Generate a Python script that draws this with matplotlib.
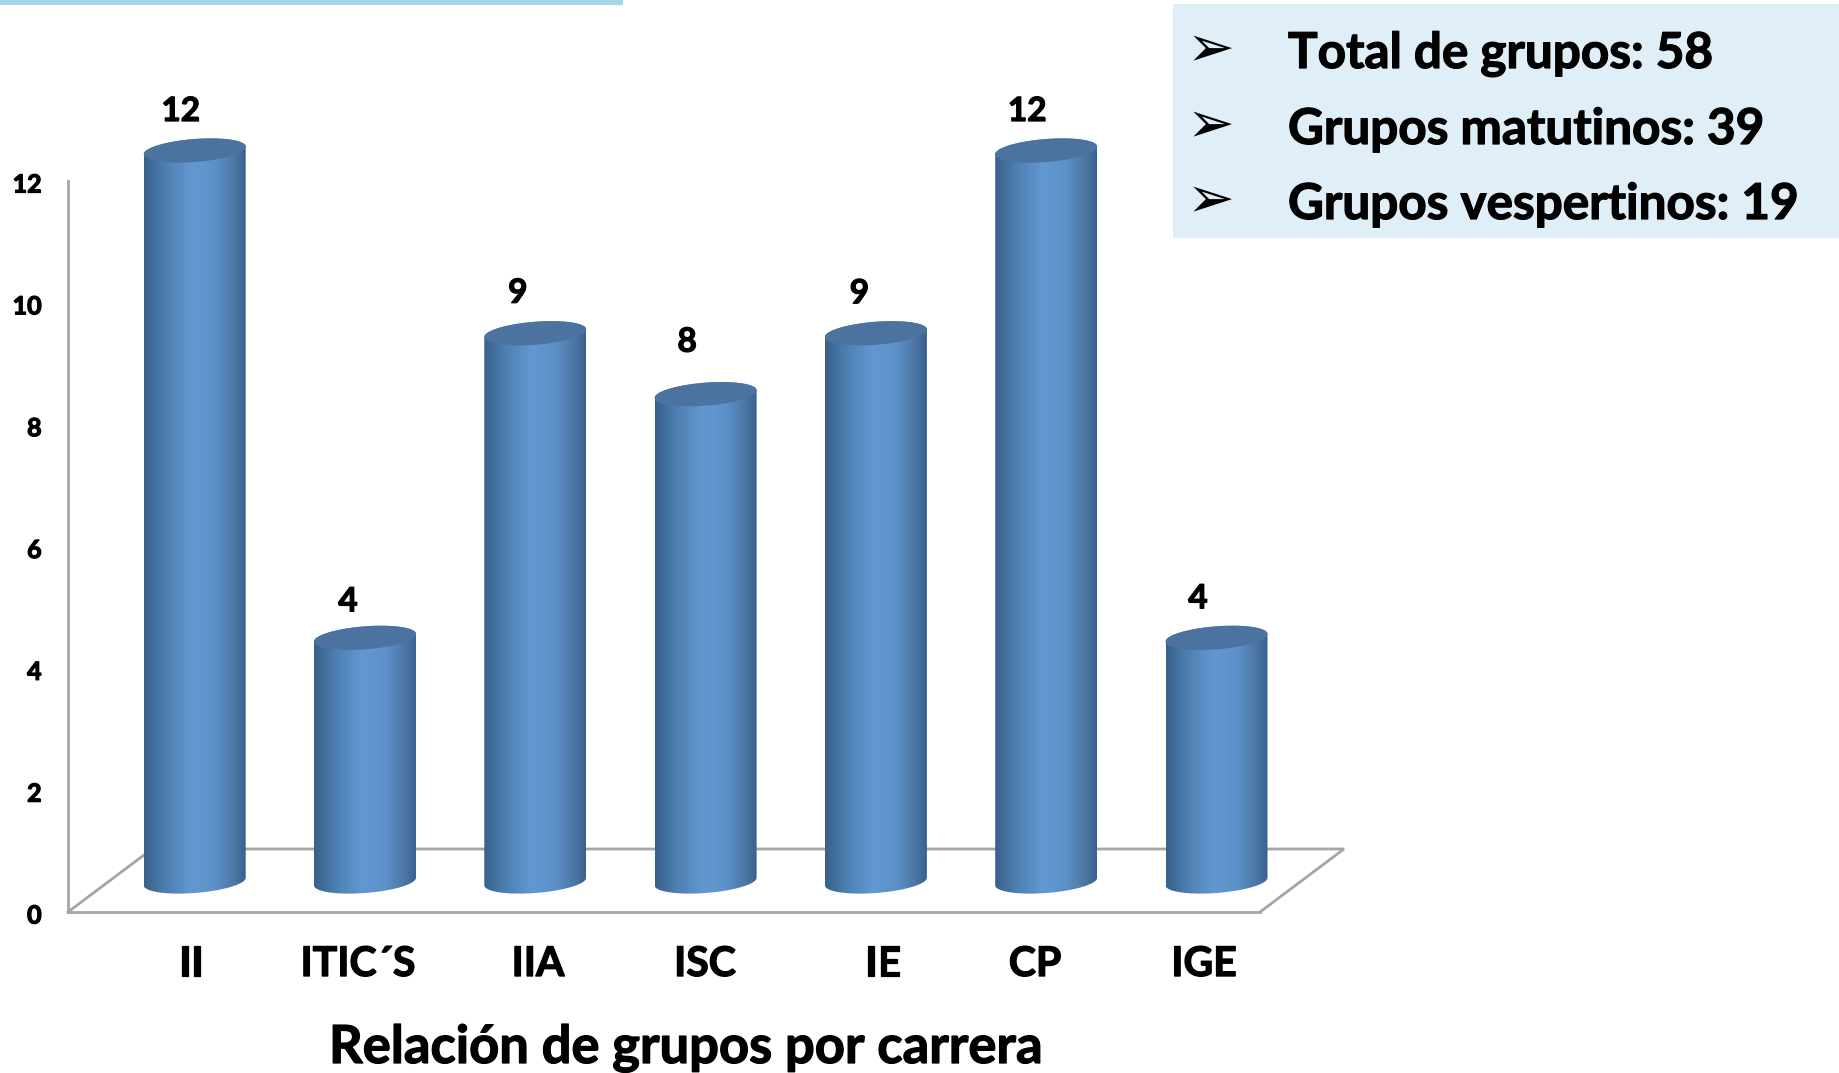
import numpy as np
import matplotlib
matplotlib.use('Agg')
import matplotlib.pyplot as plt
import matplotlib.patheffects as pe
from matplotlib.colors import LinearSegmentedColormap
from matplotlib.patches import Polygon, Rectangle
from matplotlib.transforms import ScaledTranslation

plt.rcParams['font.family'] = ['Lato', 'DejaVu Sans']
plt.rcParams['font.weight'] = 'bold'

carreras = ['II', 'ITIC´S', 'IIA', 'ISC', 'IE', 'CP', 'IGE']
grupos = [12, 4, 9, 8, 9, 12, 4]
y_ticks = [0, 2, 4, 6, 8, 10, 12]
resumen = ['Total de grupos: 58', 'Grupos matutinos: 39', 'Grupos vespertinos: 19']
titulo = 'Relación de grupos por carrera'

W, H = 1839, 1073
X0, X1 = 68, 1260      # axis ends in pixels
Y0, Y12 = 912, 181
PX_X = 170.3           # pixels per category
PX_Y = (Y0 - Y12) / 12 # pixels per group
GRIS = '#a6a6a6'
# Lato bold is lighter than the original face, thicken it a little
GRUESO = [pe.withStroke(linewidth=0.9, foreground='black')]

fig = plt.figure(figsize=(W / 100, H / 100), dpi=100)
ax = fig.add_axes([X0 / W, 1 - Y0 / H, (X1 - X0) / W, (Y0 - Y12) / H])
ax.set_xlim((X0 - 194.7) / PX_X, (X1 - 194.7) / PX_X)
ax.set_ylim(0, 12)
for s in ['top', 'right']:
    ax.spines[s].set_visible(False)
for s in ['left', 'bottom']:
    ax.spines[s].set_color(GRIS)
    ax.spines[s].set_linewidth(2)

# floor of the fake 3d chart
xa, xb = ax.get_xlim()
dx, dy = 84 / PX_X, 63 / PX_Y
ax.plot([xa, xa + dx, xb + dx, xb], [0, dy, dy, 0], color=GRIS, lw=2,
        clip_on=False, solid_joinstyle='miter', zorder=1)

cilindro = LinearSegmentedColormap.from_list('cil', [
    (0, '#38608a'), (0.18, '#4b7cad'), (0.47, '#6298d2'), (0.7, '#5c90c8'),
    (0.88, '#4d78a6'), (1, '#3a618c')])
grad = np.linspace(0, 1, 200).reshape(1, -1)

a = 51 / PX_X
b = 11.5 / PX_Y
inclina = 3.8 / PX_Y   # right side sits higher than the left
base = 30.5 / PX_Y
t = np.linspace(0, 2 * np.pi, 121)
off_x = [-14, -17, -17.5, -18.5, -16.5, -19, -18.5]
off_y = [39, 36, 40, 52, 39.5, 39, 39]

for i, v in enumerate(grupos):
    arriba = v + base
    # body outline: left side down, lower half of the base, right side up, upper half of the top
    tt = np.linspace(np.pi, 2 * np.pi, 60)
    low_x = i + a * np.cos(tt)
    low_y = base + inclina * np.cos(tt) + b * np.sin(tt)
    tt = np.linspace(0, np.pi, 60)
    up_x = i + a * np.cos(tt)
    up_y = arriba + inclina * np.cos(tt) + b * np.sin(tt)
    forma = Polygon(np.column_stack([np.r_[low_x, up_x], np.r_[low_y, up_y]]),
                    closed=True, transform=ax.transData, fc='none', ec='none')
    ax.add_patch(forma)
    forma.set_clip_on(False)
    im = ax.imshow(grad, extent=[i - a, i + a, 0, arriba + 1], cmap=cilindro,
                   aspect='auto', interpolation='bilinear', zorder=2)
    im.set_clip_path(forma)
    im.set_clip_box(fig.bbox)
    ax.fill(i + a * np.cos(t), arriba + inclina * np.cos(t) + b * np.sin(t),
            color='#4c729f', lw=0, clip_on=False, zorder=3)
    ax.annotate(str(v), (i, arriba), xytext=(off_x[i], off_y[i]), textcoords='offset pixels',
                ha='center', va='center', fontsize=24, color='black', annotation_clip=False,
                path_effects=GRUESO)

ax.set_xlim((X0 - 194.7) / PX_X, (X1 - 194.7) / PX_X)
ax.set_ylim(0, 12)

# the category names are not quite centred under the bars in the original
label_px = [191, 358, 538, 705, 883, 1035, 1204]
ax.set_xticks([(p - 194.7) / PX_X for p in label_px], carreras)
ax.set_yticks(y_ticks)
ax.tick_params(axis='x', length=0, pad=24.5, labelsize=29.5)
ax.tick_params(axis='y', length=0, pad=19, labelsize=18)
bajar = ScaledTranslation(0, -2 / 100, fig.dpi_scale_trans)
for lab in ax.get_xticklabels() + ax.get_yticklabels():
    lab.set_path_effects(GRUESO)
for lab in ax.get_yticklabels():
    lab.set_transform(lab.get_transform() + bajar)
ax.set_xlabel(titulo, fontsize=37.8, fontweight='bold', path_effects=GRUESO)
ax.xaxis.set_label_coords((686 - X0) / (X1 - X0), -(1063 - Y0) / (Y0 - Y12), transform=ax.transAxes)
ax.xaxis.label.set_va('baseline')

# strip at the top and summary box
fig.add_artist(Rectangle((0, 1 - 4.5 / H), 623 / W, 4.5 / H, transform=fig.transFigure,
                         fc='#a5d5e8', ec='none'))
fig.add_artist(Rectangle((1173 / W, 1 - 238 / H), 666 / W, 234 / H, transform=fig.transFigure,
                         fc='#e0eff7', ec='none'))
for linea, base_y in zip(resumen, [68, 144, 219]):
    fig.text(1288 / W, 1 - base_y / H, linea, fontsize=35.6, va='baseline', ha='left', color='black',
             path_effects=GRUESO)
    fig.text(1211 / W, 1 - (base_y - 17) / H, '➢', fontsize=41, va='center', ha='center',
             color='black', family='DejaVu Sans', fontweight='normal')

fig.savefig('out.png', dpi=100)
